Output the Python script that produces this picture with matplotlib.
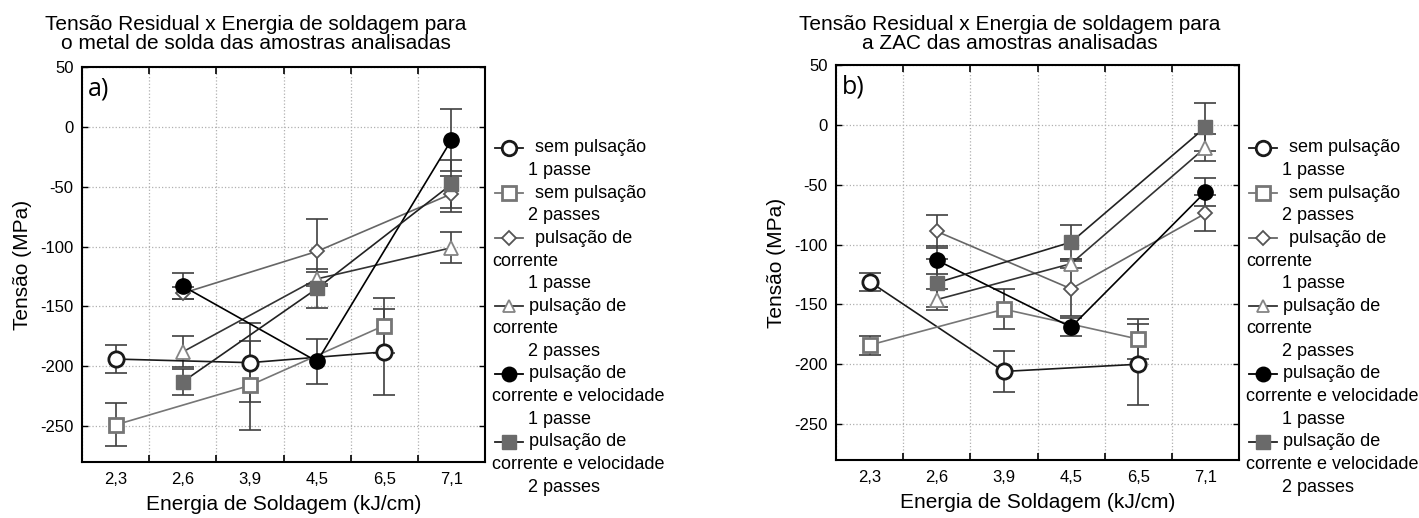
import matplotlib
matplotlib.use("Agg")
import matplotlib.pyplot as plt
from matplotlib.lines import Line2D
import numpy as np

plt.rcParams['font.family'] = ['Liberation Sans', 'DejaVu Sans']
plt.rcParams['axes.unicode_minus'] = False

categories = ['2,3', '2,6', '3,9', '4,5', '6,5', '7,1']

# Panel a) metal de solda
a_sp1 = [-194, None, -197, None, -188, None]
a_sp1_err = [12, None, 33, None, 36, None]
a_sp2 = [-249, None, -216, None, -166, None]
a_sp2_err = [18, None, 37, None, 23, None]
a_pc1 = [None, -139, None, -104, None, -56]
a_pc1_err = [None, 5, None, 27, None, 15]
a_pc2 = [None, -188, None, -127, None, -101]
a_pc2_err = [None, 13, None, 6, None, 13]
a_pcv1 = [None, -133, None, -196, None, -11]
a_pcv1_err = [None, 11, None, 19, None, 26]
a_pcv2 = [None, -213, None, -135, None, -48]
a_pcv2_err = [None, 11, None, 16, None, 20]

# Panel b) ZAC
b_sp1 = [-131, None, -206, None, -200, None]
b_sp1_err = [7.5, None, 17, None, 34, None]
b_sp2 = [-184, None, -154, None, -179, None]
b_sp2_err = [8, None, 16.5, None, 17, None]
b_pc1 = [None, -89, None, -137, None, -74]
b_pc1_err = [None, 13.5, None, 23, None, 15]
b_pc2 = [None, -146, None, -116, None, -19]
b_pc2_err = [None, 9, None, 4, None, 11]
b_pcv1 = [None, -113, None, -169, None, -56]
b_pcv1_err = [None, 12, None, 7.5, None, 11.5]
b_pcv2 = [None, -132, None, -98, None, -2]
b_pcv2_err = [None, 20, None, 14, None, 20]

legend_lines = [
    ["sem pulsação", "1 passe"],
    ["sem pulsação", "2 passes"],
    ["pulsação de", "corrente", "1 passe"],
    ["pulsação de", "corrente", "2 passes"],
    ["pulsação de", "corrente e velocidade", "1 passe"],
    ["pulsação de", "corrente e velocidade", "2 passes"],
]

styles = [
    dict(marker='o', ms=11, mfc='white', mec='#1a1a1a', mew=2.0, color='#1a1a1a'),
    dict(marker='s', ms=10, mfc='white', mec='#767676', mew=2.0, color='#767676'),
    dict(marker='D', ms=7, mfc='white', mec='#555555', mew=1.3, color='#666666'),
    dict(marker='^', ms=9.5, mfc='white', mec='#858585', mew=1.3, color='#333333'),
    dict(marker='o', ms=11, mfc='black', mec='black', mew=1.0, color='black'),
    dict(marker='s', ms=10, mfc='#6a6a6a', mec='#6a6a6a', mew=1.0, color='#222222'),
]

W, H = 1419, 518
fig = plt.figure(figsize=(W / 100, H / 100), dpi=100)


def fx(x):
    return x / W


def fy(y):
    return 1 - y / H


def panel(left, right, top, bottom, series, errs, title1, title2, tag, dx):
    ax = fig.add_axes([fx(left), fy(bottom), fx(right) - fx(left), (bottom - top) / H])
    xs_all = np.arange(len(categories))
    for vals, err, st in zip(series, errs, styles):
        idx = [i for i, v in enumerate(vals) if v is not None]
        xs = xs_all[idx]
        ys = np.array([vals[i] for i in idx], dtype=float)
        es = np.array([err[i] for i in idx], dtype=float)
        ax.errorbar(xs, ys, yerr=es, fmt='none', ecolor='#404040', elinewidth=1.2,
                    capsize=8, capthick=1.2, zorder=2)
        ax.plot(xs, ys, linestyle='-', lw=1.2, color=st['color'], zorder=3)
        ax.plot(xs, ys, linestyle='none', marker=st['marker'], ms=st['ms'],
                mfc=st['mfc'], mec=st['mec'], mew=st['mew'], zorder=4)
    ax.set_xlim(-0.5, len(categories) - 0.5)
    ax.set_ylim(-280, 50)
    ax.set_xticks(xs_all)
    ax.set_xticklabels(categories)
    ax.set_xticks(np.arange(len(categories) + 1) - 0.5, minor=True)
    ax.set_yticks(np.arange(-250, 51, 50))
    ax.tick_params(axis='x', which='major', length=0, pad=7, labelsize=12)
    ax.tick_params(axis='x', which='minor', direction='in', length=5, width=1.2,
                   top=True, bottom=True)
    ax.tick_params(axis='y', which='major', direction='in', length=4, width=1,
                   left=True, right=True, pad=6, labelsize=12)
    ax.grid(True, which='minor', axis='x', linestyle=':', color='#b0b0b0', lw=0.9)
    ax.grid(True, which='major', axis='y', linestyle=':', color='#b0b0b0', lw=0.9)
    for sp in ax.spines.values():
        sp.set_linewidth(1.5)
        sp.set_color('black')
    ax.set_ylabel('Tensão (MPa)', fontsize=15, labelpad=6)
    ax.set_xlabel('Energia de Soldagem (kJ/cm)', fontsize=15, labelpad=6)
    ax.text(0.014, 0.975, tag, transform=ax.transAxes, ha='left', va='top',
            fontsize=18, family=['Open Sans', 'DejaVu Sans'])
    cx = (left + right) / 2 - 28
    fig.text(fx(cx), fy(30), title1, ha='center', va='baseline', fontsize=15)
    fig.text(fx(cx), fy(49), title2, ha='center', va='baseline', fontsize=15)

    # legend drawn as figure artists (text wraps below the handle)
    pitch = 22.6
    y0 = 148
    row = 0
    for k, (lines, st) in enumerate(zip(legend_lines, styles)):
        y = y0 + row * pitch
        fig.add_artist(Line2D([fx(495 + dx), fx(523 + dx)], [fy(y), fy(y)],
                              color=st['color'], lw=1.3))
        fig.add_artist(Line2D([fx(509 + dx)], [fy(y)], marker=st['marker'],
                              ms=st['ms'] * 0.95, mfc=st['mfc'], mec=st['mec'],
                              mew=st['mew'], linestyle='none'))
        first_x = 535 if k < 3 else 529
        for j, txt in enumerate(lines):
            yy = y0 + row * pitch
            if j == 0:
                tx = first_x
            elif j == len(lines) - 1:
                tx = 528
            else:
                tx = 492
            fig.text(fx(tx + dx), fy(yy), txt, ha='left', va='center', fontsize=13)
            row += 1
    return ax


panel(82, 485, 67, 462,
      [a_sp1, a_sp2, a_pc1, a_pc2, a_pcv1, a_pcv2],
      [a_sp1_err, a_sp2_err, a_pc1_err, a_pc2_err, a_pcv1_err, a_pcv2_err],
      'Tensão Residual x Energia de soldagem para',
      'o metal de solda das amostras analisadas', 'a)', 0)

panel(836, 1239, 65, 460,
      [b_sp1, b_sp2, b_pc1, b_pc2, b_pcv1, b_pcv2],
      [b_sp1_err, b_sp2_err, b_pc1_err, b_pc2_err, b_pcv1_err, b_pcv2_err],
      'Tensão Residual x Energia de soldagem para',
      'a ZAC das amostras analisadas', 'b)', 754)

fig.savefig('out.png', dpi=100)
